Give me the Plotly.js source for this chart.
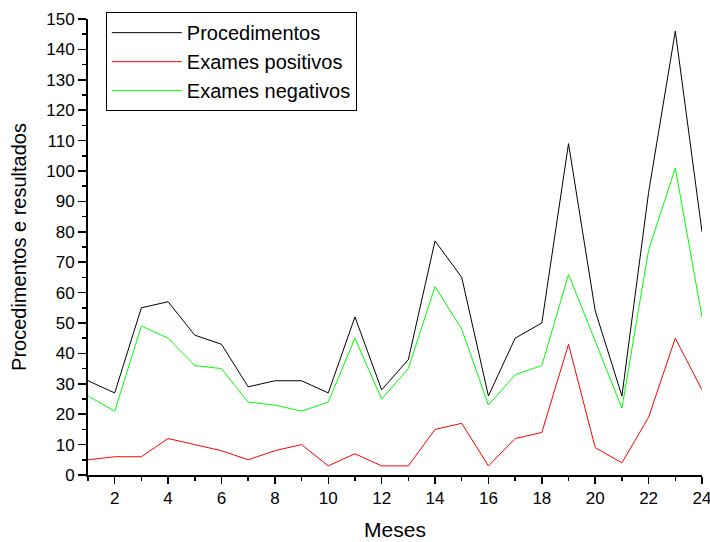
<!DOCTYPE html>
<html>
<head>
<meta charset="utf-8">
<script src="https://cdn.plot.ly/plotly-3.0.1.min.js"></script>
<style>html,body{margin:0;padding:0;background:#fff;}#chart{width:710px;height:542px;}</style>
</head>
<body>
<div id="chart"></div>
<script>
const meses = [1,2,3,4,5,6,7,8,9,10,11,12,13,14,15,16,17,18,19,20,21,22,23,24];
const procedimentos = [31,27,55,57,46,43,29,31,31,27,52,28,38,77,65,26,45,50,109,54,26,93,146,80];
const examesPositivos = [5,6,6,12,10,8,5,8,10,3,7,3,3,15,17,3,12,14,43,9,4,19,45,28];
const examesNegativos = [26,21,49,45,36,35,24,23,21,24,45,25,35,62,48,23,33,36,66,44,22,74,101,52];
const xTickVals = [2,4,6,8,10,12,14,16,18,20,22,24];

const font = "Liberation Sans, Arial, sans-serif";
const traces = [
  {x: meses, y: procedimentos, name: "Procedimentos", mode: "lines", line: {color: "#000000", width: 1}},
  {x: meses, y: examesPositivos, name: "Exames positivos", mode: "lines", line: {color: "#ff0000", width: 1}},
  {x: meses, y: examesNegativos, name: "Exames negativos", mode: "lines", line: {color: "#00ff00", width: 1}}
];
const layout = {
  width: 710, height: 542,
  margin: {l: 88, r: 8, t: 19, b: 67},
  paper_bgcolor: "#fff", plot_bgcolor: "#fff",
  font: {family: font, color: "#000", size: 17},
  showlegend: true,
  legend: {x: 0.029, y: 1.015, xanchor: "left", yanchor: "top", bordercolor: "#000", borderwidth: 1,
           bgcolor: "rgba(255,255,255,0)", font: {family: font, size: 20, color: "#000"},
           tracegroupgap: 0, itemwidth: 70},
  xaxis: {
    range: [1, 24], tickmode: "array", tickvals: xTickVals, ticks: "outside", ticklen: 7, tickwidth: 1.5, tickcolor: "#000",
    showline: true, linecolor: "#000", linewidth: 2, showgrid: false, zeroline: false,
    minor: {tickmode: "linear", tick0: 1, dtick: 1, ticks: "outside", ticklen: 4, tickcolor: "#000", tickwidth: 1.5, showgrid: false},
    tickfont: {size: 17}, automargin: false, ticklabeloverflow: "allow",
    title: {text: "Meses", font: {size: 21}, standoff: 15}
  },
  yaxis: {
    range: [0, 150], dtick: 10, ticks: "outside", ticklen: 8, tickwidth: 1.5, tickcolor: "#000",
    showline: true, linecolor: "#000", linewidth: 2, showgrid: false, zeroline: false,
    minor: {dtick: 5, ticks: "outside", ticklen: 4, tickcolor: "#000", tickwidth: 1.5, showgrid: false},
    tickfont: {size: 17}, automargin: false, ticklabeloverflow: "allow",
    title: {text: "Procedimentos e resultados", font: {size: 20}, standoff: 14}
  }
};
Plotly.newPlot("chart", traces, layout, {staticPlot: true, displayModeBar: false});
</script>
</body>
</html>
